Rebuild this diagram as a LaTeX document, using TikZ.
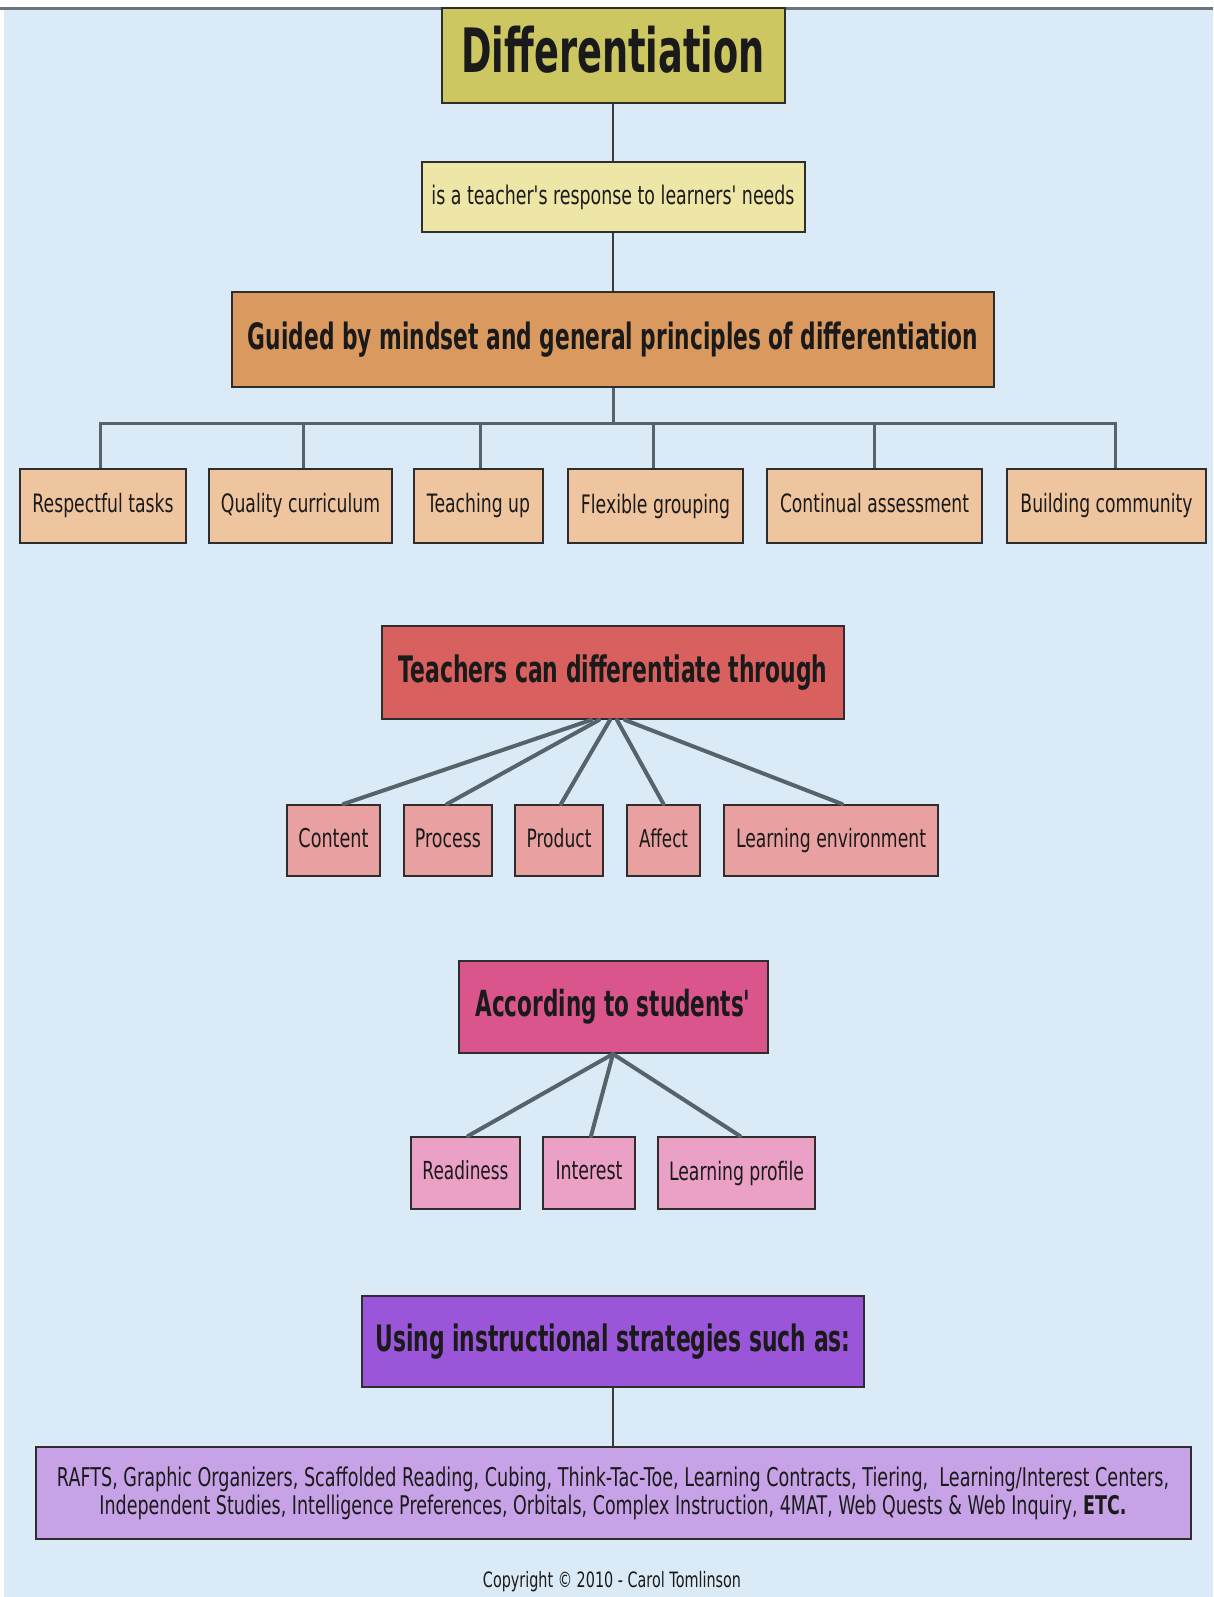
\documentclass[tikz,border=0pt]{standalone}
\usepackage{fontspec}
\usepackage{graphicx}
\setmainfont{DejaVu Sans}
\newfontfamily\regc{DejaVu Sans}[FakeStretch=0.68]
\newfontfamily\boldc{DejaVu Sans}[FakeStretch=0.6]
\newcommand{\lblr}[2]{\resizebox{#1pt}{!}{\regc\vphantom{Agy}#2}}
\newcommand{\lblb}[2]{\resizebox{#1pt}{!}{\boldc\bfseries\vphantom{Agy}#2}}
\definecolor{bgc}{HTML}{DAEAF6}
\definecolor{topc}{HTML}{6E737B}
\definecolor{bordc}{HTML}{2E2E2E}
\definecolor{txtc}{HTML}{1A1A1A}
\definecolor{lnc}{HTML}{3A3A3A}
\definecolor{lnc2}{HTML}{56636A}
\definecolor{cdiff}{HTML}{CDC762}
\definecolor{cresp}{HTML}{EEE6A6}
\definecolor{cguid}{HTML}{D9995F}
\definecolor{cprin}{HTML}{EEC59E}
\definecolor{cteach}{HTML}{D8605F}
\definecolor{cteachk}{HTML}{E9A0A0}
\definecolor{cacc}{HTML}{D9558C}
\definecolor{cacck}{HTML}{EBA0C5}
\definecolor{cusing}{HTML}{9A55D9}
\definecolor{cstrat}{HTML}{C7A2E6}
\begin{document}
\begin{tikzpicture}[x=1pt,y=-1pt,
  bx/.style={draw=bordc, line width=2pt, inner sep=0pt, text=txtc},
  vln/.style={draw=lnc, line width=2.5pt},
  tln/.style={draw=lnc2, line width=3pt},
  dln/.style={draw=lnc2, line width=4pt, line cap=round}]
\useasboundingbox (0,0) rectangle (1213,1597);
\fill[bgc] (0,0) rectangle (1213,1597);
\fill[white] (0,0) rectangle (1213,7);
\fill[white] (0,0) rectangle (4,1597);
\draw[topc, line width=2.5pt] (0,8.5) -- (1213,8.5);

% level 1
\node[bx, fill=cdiff, minimum width=343pt, minimum height=95pt] (diff) at (613,55.5) {\lblb{303}{Differentiation}};
\node[bx, fill=cresp, minimum width=383pt, minimum height=70pt] (resp) at (613,197) {\lblr{363}{is a teacher's response to learners' needs}};
\node[bx, fill=cguid, minimum width=762pt, minimum height=95pt] (guid) at (613,339.5) {\lblb{730}{Guided by mindset and general principles of differentiation}};

% principles
\node[bx, fill=cprin, minimum width=166pt, minimum height=74pt] (p1) at (103,506) {\lblr{141}{Respectful tasks}};
\node[bx, fill=cprin, minimum width=183pt, minimum height=74pt] (p2) at (300.5,506) {\lblr{159}{Quality curriculum}};
\node[bx, fill=cprin, minimum width=129pt, minimum height=74pt] (p3) at (478.5,506) {\lblr{103}{Teaching up}};
\node[bx, fill=cprin, minimum width=175pt, minimum height=74pt] (p4) at (655.5,506) {\lblr{149}{Flexible grouping}};
\node[bx, fill=cprin, minimum width=215pt, minimum height=74pt] (p5) at (874.5,506) {\lblr{189}{Continual assessment}};
\node[bx, fill=cprin, minimum width=199pt, minimum height=74pt] (p6) at (1106.5,506) {\lblr{172}{Building community}};

% teachers
\node[bx, fill=cteach, minimum width=462pt, minimum height=93pt] (teach) at (613,672.5) {\lblb{429}{Teachers can differentiate through}};
\node[bx, fill=cteachk, minimum width=93pt, minimum height=71pt] (t1) at (333.5,840.5) {\lblr{70}{Content}};
\node[bx, fill=cteachk, minimum width=88pt, minimum height=71pt] (t2) at (448,840.5) {\lblr{66}{Process}};
\node[bx, fill=cteachk, minimum width=88pt, minimum height=71pt] (t3) at (559,840.5) {\lblr{65}{Product}};
\node[bx, fill=cteachk, minimum width=73pt, minimum height=71pt] (t4) at (663.5,840.5) {\lblr{49}{Affect}};
\node[bx, fill=cteachk, minimum width=214pt, minimum height=71pt] (t5) at (831,840.5) {\lblr{190}{Learning environment}};

% according
\node[bx, fill=cacc, minimum width=309pt, minimum height=92pt] (acc) at (613,1007) {\lblb{275}{According to students'}};
\node[bx, fill=cacck, minimum width=109pt, minimum height=72pt] (a1) at (465.5,1173) {\lblr{86}{Readiness}};
\node[bx, fill=cacck, minimum width=92pt, minimum height=72pt] (a2) at (589,1173) {\lblr{67}{Interest}};
\node[bx, fill=cacck, minimum width=157pt, minimum height=72pt] (a3) at (736.5,1173) {\lblr{135}{Learning profile}};

% using
\node[bx, fill=cusing, minimum width=502pt, minimum height=91pt] (using) at (613,1341.5) {\lblb{475}{Using instructional strategies such as:}};
\node[bx, fill=cstrat, minimum width=1155pt, minimum height=92pt, align=center, font=\fontsize{20}{28}\selectfont] (strat) at (613,1493)
  {\lblr{1112}{RAFTS, Graphic Organizers, Scaffolded Reading, Cubing, Think-Tac-Toe, Learning Contracts, Tiering,\ \ Learning/Interest Centers,}\\
   \lblr{1027}{Independent Studies, Intelligence Preferences, Orbitals, Complex Instruction, 4MAT, Web Quests \& Web Inquiry, {\bfseries ETC.}}};
\node[text=txtc] (copy) at (612,1582) {\lblr{258}{Copyright © 2010 - Carol Tomlinson}};

% connectors
\draw[vln] (diff) -- (resp);
\draw[vln] (resp) -- (guid);
\coordinate (bar) at (613,423);
\draw[tln] (guid.south) -- (bar);
\draw[tln] ([xshift=-3pt]p1.north) |- (bar);
\draw[tln] ([xshift=3pt]p2.north) |- (bar);
\draw[tln] ([xshift=1.5pt]p3.north) |- (bar);
\draw[tln] ([xshift=-2.5pt]p4.north) |- (bar);
\draw[tln] (p5.north) |- (bar);
\draw[tln] ([xshift=8.5pt]p6.north) |- (bar);

\draw[dln] ([xshift=-22pt]teach.south) -- ([xshift=10pt]t1.north);
\draw[dln] ([xshift=-14pt]teach.south) -- ([xshift=-1pt]t2.north);
\draw[dln] ([xshift=-3pt]teach.south) -- ([xshift=2pt]t3.north);
\draw[dln] ([xshift=4pt]teach.south) -- (t4.north);
\draw[dln] ([xshift=12pt]teach.south) -- ([xshift=11pt]t5.north);

\draw[dln] (acc.south) -- ([xshift=2.5pt]a1.north);
\draw[dln] (acc.south) -- ([xshift=2pt]a2.north);
\draw[dln] (acc.south) -- ([xshift=3.5pt]a3.north);

\draw[vln] (using) -- (strat);
\end{tikzpicture}
\end{document}
